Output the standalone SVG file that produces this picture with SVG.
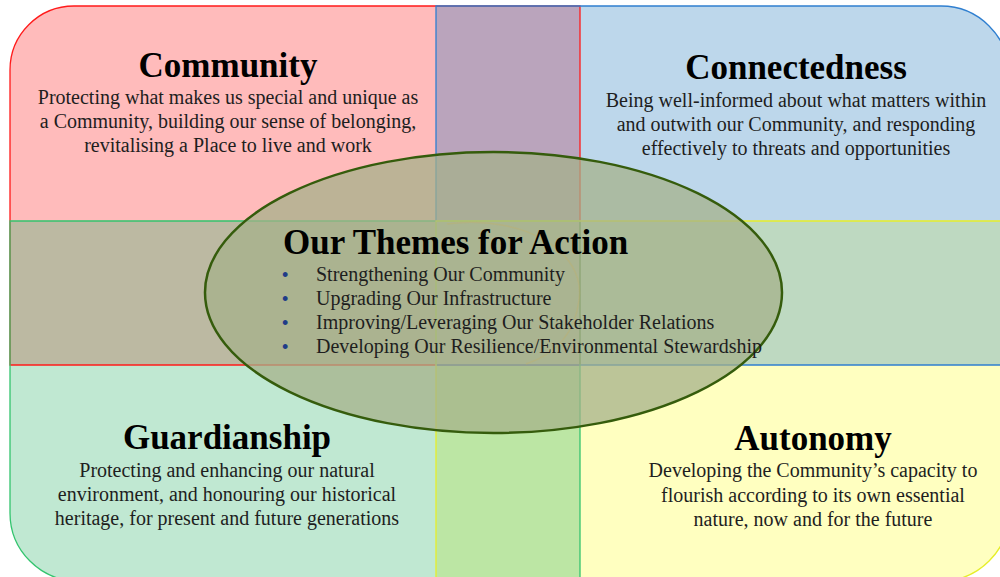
<svg xmlns="http://www.w3.org/2000/svg" width="1000" height="577" viewBox="0 0 1000 577">
  <style>
    .title { font-family: "Liberation Serif", "Times New Roman", serif; font-weight: bold; font-size: 35px; fill: #000; text-anchor: middle; }
    .body { font-family: "Liberation Serif", "Times New Roman", serif; font-size: 20px; fill: #1e1e1e; text-anchor: middle; }
    .item { font-family: "Liberation Serif", "Times New Roman", serif; font-size: 20px; fill: #1e1e1e; }
    .bullet { font-family: "Liberation Sans", Arial, sans-serif; font-size: 18px; fill: #1f3c88; }
    .outline { fill: none; stroke-width: 1.3; }
  </style>
  <rect width="1000" height="577" fill="#ffffff"/>
  <g id="quadrant-fills">
    <path d="M10,70 A64,64 0 0 1 74,6 H580 V365 H10 Z" fill="#ffbbbb"/>
    <path d="M436,6 H941 A68,68 0 0 1 1009,74 V365 H436 Z" fill="#bdd7eb"/>
    <path d="M10,221 H580 V581 H78 A68,68 0 0 1 10,513 Z" fill="#c0e8d2"/>
    <path d="M436,221 H1009 V513 A68,68 0 0 1 941,581 H436 Z" fill="#ffffc0"/>
  </g>
  <g id="overlaps">
    <rect x="436" y="6" width="144" height="215" fill="#baa4bc"/>
    <rect x="10" y="221" width="426" height="144" fill="#bcb9a2"/>
    <rect x="580" y="221" width="429" height="144" fill="#bed9c1"/>
    <rect x="436" y="365" width="144" height="216" fill="#bce6a4"/>
    <rect x="436" y="221" width="144" height="144" fill="#b8bda6"/>
  </g>
  <g id="community">
    <path class="outline" d="M10,70 A64,64 0 0 1 74,6 H580 V365 H10 Z" stroke="#ff1a1a"/>
    <text class="title" x="228" y="77">Community</text>
    <text class="body" x="228" y="104">Protecting what makes us special and unique as</text>
    <text class="body" x="228" y="128">a Community, building our sense of belonging,</text>
    <text class="body" x="228" y="152">revitalising a Place to live and work</text>
  </g>
  <g id="connectedness">
    <path class="outline" d="M436,6 H941 A68,68 0 0 1 1009,74 V365 H436 Z" stroke="#2f7fd0"/>
    <text class="title" x="796" y="79">Connectedness</text>
    <text class="body" x="796" y="107">Being well-informed about what matters within</text>
    <text class="body" x="796" y="131">and outwith our Community, and responding</text>
    <text class="body" x="796" y="155">effectively to threats and opportunities</text>
  </g>
  <g id="guardianship">
    <path class="outline" d="M10,221 H580 V581 H78 A68,68 0 0 1 10,513 Z" stroke="#33c46e"/>
    <text class="title" x="227" y="449">Guardianship</text>
    <text class="body" x="227" y="477">Protecting and enhancing our natural</text>
    <text class="body" x="227" y="501">environment, and honouring our historical</text>
    <text class="body" x="227" y="525">heritage, for present and future generations</text>
  </g>
  <g id="autonomy">
    <path class="outline" d="M436,221 H1009 V513 A68,68 0 0 1 941,581 H436 Z" stroke="#e6ee2a"/>
    <text class="title" x="813" y="450">Autonomy</text>
    <text class="body" x="813" y="477">Developing the Community’s capacity to</text>
    <text class="body" x="813" y="502">flourish according to its own essential</text>
    <text class="body" x="813" y="526">nature, now and for the future</text>
  </g>
  <g id="themes">
    <ellipse cx="493.5" cy="292.5" rx="288.5" ry="140.5" fill="#a5b18a" fill-opacity="0.74" stroke="#355c0c" stroke-width="2.5"/>
    <path d="M447,224 C525,214 586,252 579,300 C575,333 556,354 526,364" fill="none" stroke="#c8b060" stroke-opacity="0.3" stroke-width="1.5"/>
    <text class="title" x="283" y="254" style="text-anchor:start">Our Themes for Action</text>
    <text class="bullet" x="282" y="281">•</text>
    <text class="bullet" x="282" y="305">•</text>
    <text class="bullet" x="282" y="329">•</text>
    <text class="bullet" x="282" y="353">•</text>
    <text class="item" x="316" y="281">Strengthening Our Community</text>
    <text class="item" x="316" y="305">Upgrading Our Infrastructure</text>
    <text class="item" x="316" y="329">Improving/Leveraging Our Stakeholder Relations</text>
    <text class="item" x="316" y="353">Developing Our Resilience/Environmental Stewardship</text>
  </g>
</svg>
